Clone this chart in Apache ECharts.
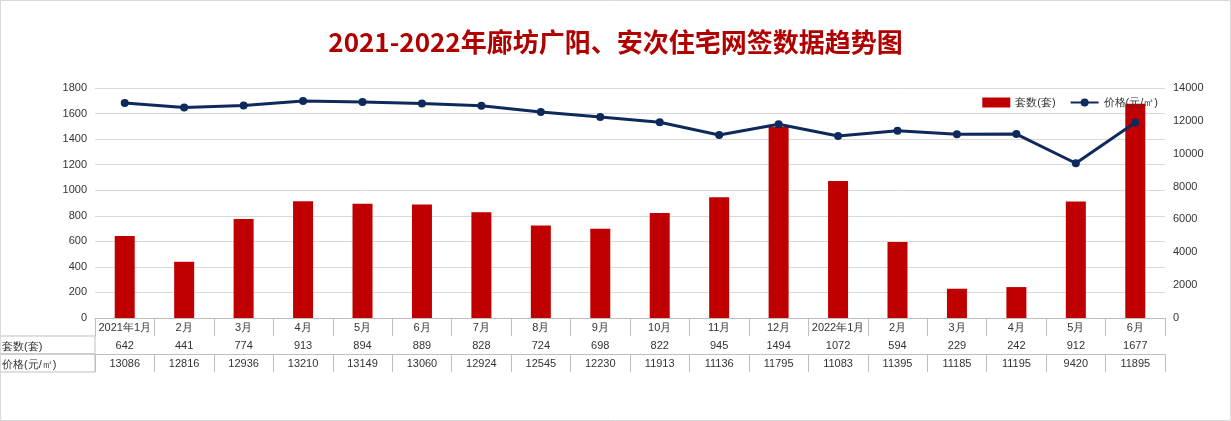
<!DOCTYPE html>
<html><head><meta charset="utf-8">
<script src="https://cdn.jsdelivr.net/npm/echarts@6/dist/echarts.min.js"></script>
<style>html,body{margin:0;background:#fff}#c{width:1231px;height:421px}</style>
</head><body><div id="c"></div>
<script>
const months = ['2021年1月','2月','3月','4月','5月','6月','7月','8月','9月','10月','11月','12月','2022年1月','2月','3月','4月','5月','6月'];
const units = [642,441,774,913,894,889,828,724,698,822,945,1494,1072,594,229,242,912,1677];
const prices = [13086,12816,12936,13210,13149,13060,12924,12545,12230,11913,11136,11795,11083,11395,11185,11195,9420,11895];

const chart = echarts.init(document.getElementById('c'));
const G = {left: 95, right: 66, top: 88, bottom: 103};
const tableAxis = (data, offset) => ({
  type: 'category', data: data.map(String), position: 'bottom', offset: offset,
  axisLine: {show: true, lineStyle: {color: '#bfbfbf'}},
  axisTick: {show: true, length: 18, interval: 0, lineStyle: {color: '#bfbfbf'}},
  axisLabel: {color: '#333', fontSize: 11, margin: 4, interval: 0}
});
chart.setOption({
  title: {text: '2021-2022年廊坊广阳、安次住宅网签数据趋势图', left: 'center', top: 24,
    textStyle: {color: '#B00000', fontSize: 26, fontWeight: 'bold', fontFamily: 'Noto Sans CJK SC'}},
  legend: {right: 68, top: 92, itemGap: 14, textStyle: {fontSize: 11, color: '#333'},
    data: [{name: '套数(套)', icon: 'rect'}, {name: '价格(元/㎡)'}], itemWidth: 28, itemHeight: 10},
  grid: G,
  xAxis: [tableAxis(months, 0), tableAxis(units, 18), tableAxis(prices, 36)],
  yAxis: [
    {type: 'value', min: 0, max: 1800, interval: 200,
     axisLabel: {color: '#333', fontSize: 11, formatter: v => String(v)}, splitLine: {lineStyle: {color: '#d9d9d9'}}},
    {type: 'value', min: 0, max: 14000, interval: 2000,
     axisLabel: {color: '#333', fontSize: 11, formatter: v => String(v)}, splitLine: {show: false}}
  ],
  graphic: [
    {type: 'text', left: 2, top: 341, style: {text: '套数(套)', fontSize: 11, fill: '#333'}},
    {type: 'text', left: 2, top: 359, style: {text: '价格(元/㎡)', fontSize: 11, fill: '#333'}},
    {type: 'rect', shape: {x: 0, y: 336, width: 95, height: 36}, style: {fill: 'none', stroke: '#bfbfbf'}},
    {type: 'rect', shape: {x: 0, y: 354, width: 95, height: 0}, style: {fill: 'none', stroke: '#bfbfbf'}},
    {type: 'rect', shape: {x: 0.5, y: 0.5, width: 1230, height: 420}, style: {fill: 'none', stroke: '#d9d9d9'}}
  ],
  series: [
    {name: '套数(套)', type: 'bar', data: units, barWidth: 20, itemStyle: {color: '#C00000'}},
    {name: '价格(元/㎡)', type: 'line', yAxisIndex: 1, data: prices, symbol: 'circle', symbolSize: 8,
     lineStyle: {color: '#0E2A5C', width: 3}, itemStyle: {color: '#0E2A5C'}}
  ]
});
</script></body></html>
